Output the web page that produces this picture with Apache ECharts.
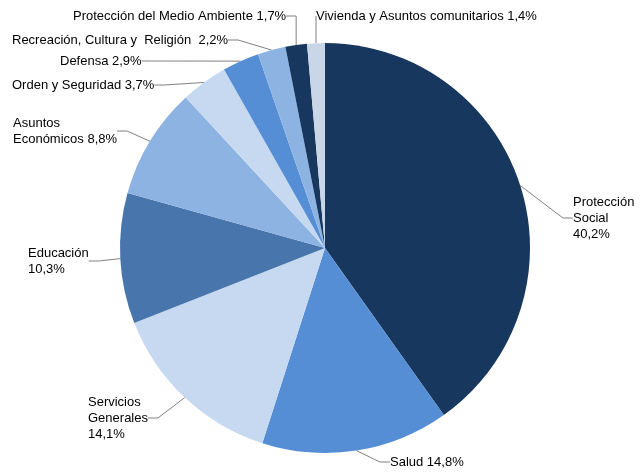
<!DOCTYPE html>
<html><head><meta charset="utf-8">
<script src="https://cdn.jsdelivr.net/npm/echarts@6/dist/echarts.min.js"></script>
<style>html,body{margin:0;padding:0;background:#fff}#c{width:640px;height:472px}</style>
</head><body><div id="c"></div>
<script>
const categories = ['Protección\nSocial', 'Salud', 'Servicios\nGenerales', 'Educación', 'Asuntos\nEconómicos', 'Orden y Seguridad', 'Defensa', 'Recreación, Cultura y  Religión ', 'Protección del Medio Ambiente', 'Vivienda y Asuntos comunitarios'];
const values = [40.2, 14.8, 14.1, 10.3, 8.8, 3.7, 2.9, 2.2, 1.7, 1.4];
const valueSeparators = ['\n', ' ', '\n', '\n', ' ', ' ', ' ', ' ', ' ', ' '];
const colors = ['#17375E', '#558ED5', '#C6D9F1', '#4876AC', '#8DB3E2', '#C6D9F1', '#558ED5', '#8DB3E2', '#17375E', '#C9D6E8'];
// label anchor positions [x, y]
const labelPos = [
  [573, 218], [390, 462], [88, 418], [28, 261], [13, 131],
  [12, 85], [60, 61], [12, 40], [73, 16], [316, 16]
];
const chart = echarts.init(document.getElementById('c'));
chart.setOption({
  animation: false,
  series: [{
    type: 'pie',
    center: [325, 248],
    radius: 205,
    startAngle: 90,
    clockwise: true,
    data: values.map((v, i) => ({ name: categories[i], value: v, itemStyle: { color: colors[i] } })),
    label: {
      show: true,
      formatter: p => categories[p.dataIndex] + valueSeparators[p.dataIndex] + String(values[p.dataIndex]).replace('.', ',') + '%',
      fontFamily: 'Liberation Sans, Arial, sans-serif',
      fontSize: 13,
      color: '#000',
      lineHeight: 16,
      overflow: 'none'
    },
    labelLine: { show: true, length: 10, length2: 10, lineStyle: { color: '#808080', width: 1 } },
    labelLayout: function (params) {
      const p = labelPos[params.dataIndex];
      return { x: p[0], y: p[1], align: 'left', verticalAlign: 'middle' };
    }
  }]
});
</script></body></html>
